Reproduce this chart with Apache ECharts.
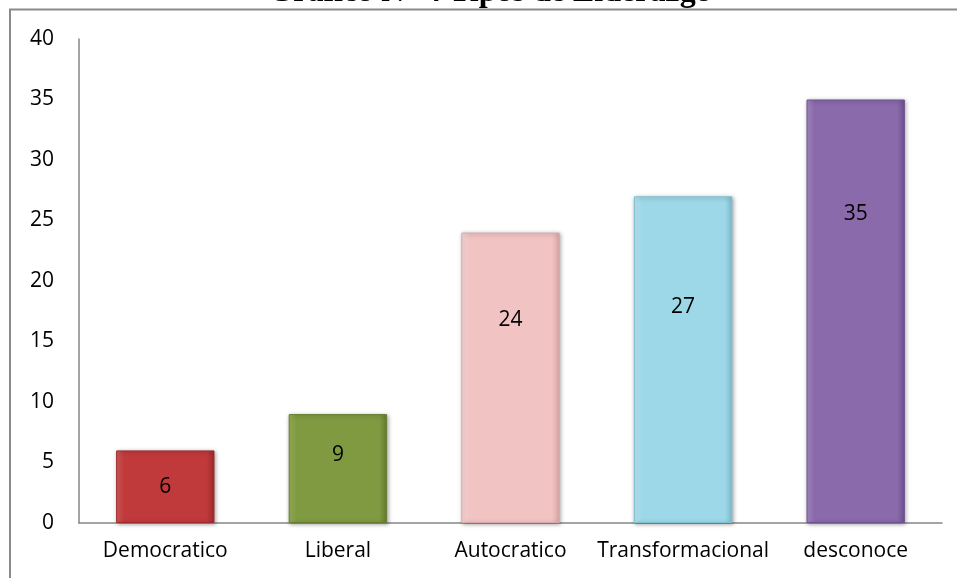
<!DOCTYPE html>
<html>
<head>
<meta charset="utf-8">
<script src="https://cdn.jsdelivr.net/npm/echarts@6/dist/echarts.min.js"></script>
<style>
  html, body { margin: 0; padding: 0; background: #fff; }
  #chart { width: 957px; height: 578px; }
</style>
</head>
<body>
<div id="chart"></div>
<script>
// Tipos de liderazgo: número de respuestas por categoría
const categories = ['Democratico', 'Liberal', 'Autocratico', 'Transformacional', 'desconoce'];
const values = [6, 9, 24, 27, 35];
const yTicks = { min: 0, max: 40, interval: 5 };

// Bar fills (base, light edge, dark edge)
const barColors = [
  ['#c0393b', '#d85a5a', '#9e2c2e'],
  ['#7f9a41', '#99b45a', '#667d32'],
  ['#f2c3c3', '#fbdcdc', '#dba9a9'],
  ['#9dd8e8', '#bfe9f4', '#7fc0d1'],
  ['#8a6aab', '#a98cc9', '#6f5290']
];
// Vertical placement of each value label inside its bar (fraction from the bar top)
const labelDrop = ['50%', '38%', '30%', '34%', '27%'];

const font = '"Open Sans", "Noto Sans", sans-serif';

const chart = echarts.init(document.getElementById('chart'), null, { renderer: 'canvas' });

const seriesData = values.map((v, i) => ({
  value: v,
  itemStyle: {
    color: new echarts.graphic.LinearGradient(0, 0, 1, 0, [
      { offset: 0, color: barColors[i][1] },
      { offset: 0.08, color: barColors[i][0] },
      { offset: 0.92, color: barColors[i][0] },
      { offset: 1, color: barColors[i][2] }
    ]),
    borderColor: barColors[i][2],
    borderWidth: 1
  },
  label: { position: ['50%', labelDrop[i]] }
}));

chart.setOption({
  animation: false,
  backgroundColor: '#ffffff',
  grid: { left: 79, right: 15, top: 39, bottom: 55, containLabel: false },
  graphic: [
    {
      type: 'rect',
      shape: { x: 10, y: 9.5, width: 1000, height: 1000 },
      style: { fill: 'none', stroke: '#8a8a8a', lineWidth: 2 },
      z: 0
    },
    {
      type: 'text',
      x: 490,
      y: -7,
      style: {
        text: 'Gráfico N° 4 Tipos de Liderazgo',
        font: 'bold 32px "Liberation Serif", "Times New Roman", serif',
        fill: '#000',
        align: 'center',
        verticalAlign: 'middle'
      },
      z: 10
    }
  ],
  xAxis: {
    type: 'category',
    data: categories,
    axisLine: { lineStyle: { color: '#868686', width: 1.5 } },
    axisTick: { show: false },
    axisLabel: { interval: 0, color: '#000', fontFamily: font, fontSize: 21, margin: 18 }
  },
  yAxis: {
    type: 'value',
    min: yTicks.min,
    max: yTicks.max,
    interval: yTicks.interval,
    axisLine: { show: true, lineStyle: { color: '#868686', width: 1.5 } },
    axisTick: { show: false },
    splitLine: { show: false },
    axisLabel: { color: '#000', fontFamily: font, fontSize: 21, margin: 25 }
  },
  series: [{
    type: 'bar',
    data: seriesData,
    barWidth: '57%',
    itemStyle: {
      shadowColor: 'rgba(0,0,0,0.35)',
      shadowBlur: 4,
      shadowOffsetX: 1,
      shadowOffsetY: 1
    },
    label: {
      show: true,
      align: 'center',
      verticalAlign: 'middle',
      color: '#000',
      fontFamily: font,
      fontSize: 21
    }
  }]
});
</script>
</body>
</html>
